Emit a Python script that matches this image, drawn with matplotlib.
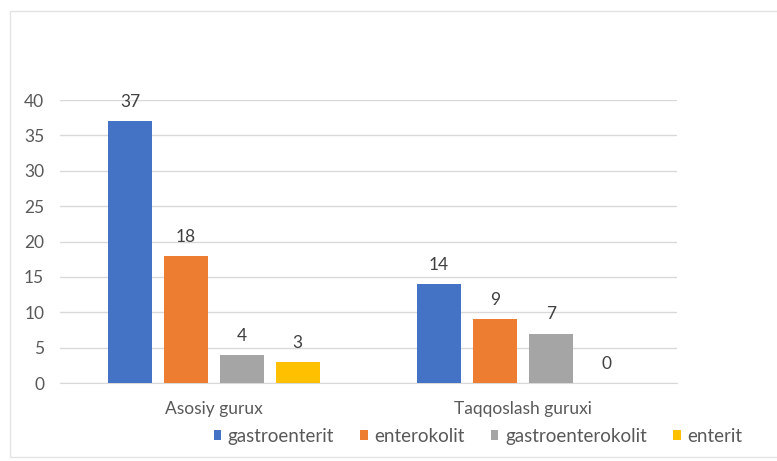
import matplotlib.pyplot as plt
import matplotlib.patches as mpatches
import numpy as np

plt.rcParams['font.family'] = ['Lato', 'DejaVu Sans']

groups = ['Asosiy gurux', 'Taqqoslash guruxi']
series = ['gastroenterit', 'enterokolit', 'gastroenterokolit', 'enterit']
values = [
    [37, 14],
    [18, 9],
    [4, 7],
    [3, 0],
]
colors = ['#4472C4', '#ED7D31', '#A5A5A5', '#FFC000']

fig = plt.figure(figsize=(7.77, 4.61), dpi=100)
ax = fig.add_axes([0.0766, 0.169, 0.795, 0.614])

x = np.arange(len(groups))
width = 0.142
step = 0.181
for i, (name, vals, c) in enumerate(zip(series, values, colors)):
    pos = x + (i - 1.5) * step
    bars = ax.bar(pos, vals, width, color=c, label=name, zorder=3)
    ax.bar_label(bars, padding=8, fontsize=12.5, color='#404040')

ax.set_xlim(-0.5, 1.5)
ax.set_ylim(0, 40)
ax.set_yticks(range(0, 41, 5))
ax.set_xticks(x)
ax.set_xticklabels(groups)
ax.tick_params(axis='both', length=0, labelsize=12.5, colors='#595959')
ax.tick_params(axis='x', pad=13)
ax.tick_params(axis='y', pad=11)
ax.grid(axis='y', color='#D9D9D9', linewidth=1, zorder=0)
for s in ['top', 'right', 'left']:
    ax.spines[s].set_visible(False)
ax.spines['bottom'].set_color('#D9D9D9')

fig.legend(loc='center', bbox_to_anchor=(0.615, 0.054), ncol=4, frameon=False,
           fontsize=13.5, labelcolor='#595959', handlelength=0.4, handleheight=0.4,
           handletextpad=0.35, columnspacing=1.4)

border = mpatches.Rectangle((10 / 777, 4 / 461), 1.0, 1 - 15 / 461,
                            transform=fig.transFigure, fill=False,
                            edgecolor='#E3E3E3', linewidth=1)
fig.patches.append(border)

fig.savefig('out.png', dpi=100)
